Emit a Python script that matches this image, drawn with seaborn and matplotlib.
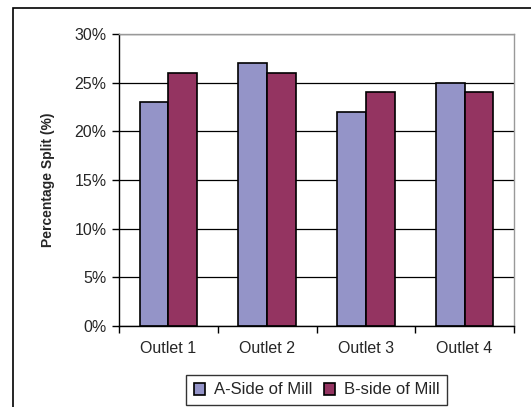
import matplotlib
matplotlib.use("Agg")
import matplotlib.pyplot as plt
import matplotlib.patches as mpatches
from matplotlib.ticker import FuncFormatter, FixedLocator
import seaborn as sns
import pandas as pd

categories = ["Outlet 1", "Outlet 2", "Outlet 3", "Outlet 4"]
a_side = [23, 27, 22, 25]
b_side = [26, 26, 24, 24]
series_names = ["A-Side of Mill", "B-side of Mill"]
colors = ["#9494C8", "#943461"]

df = pd.DataFrame({
    "Outlet": categories * 2,
    "Value": a_side + b_side,
    "Series": [series_names[0]] * 4 + [series_names[1]] * 4,
})

sns.set_style("white")
plt.rcParams["font.family"] = ["Liberation Sans", "DejaVu Sans"]

W, H = 531, 407
fig = plt.figure(figsize=(W / 100, H / 100), dpi=100)
ax = fig.add_axes([119 / W, 1 - 326 / H, (514 - 119) / W, (326 - 34) / H])

sns.barplot(data=df, x="Outlet", y="Value", hue="Series", palette=colors,
            saturation=1, width=0.58, edgecolor="black", linewidth=1.2,
            ax=ax, legend=True)

ax.set_ylim(0, 30)
ax.set_xlim(-0.5, 3.5)
ax.set_yticks([0, 5, 10, 15, 20, 25, 30])
ax.yaxis.set_major_formatter(FuncFormatter(lambda v, p: f"{int(v)}%"))
ax.yaxis.grid(True, color="black", linewidth=0.9)
ax.set_axisbelow(True)
ax.set_xlabel("")
ax.set_ylabel("Percentage Split (%)", fontsize=10, fontweight="bold", labelpad=14)

ax.tick_params(axis="y", which="major", length=5, width=1, color="black",
               direction="out", labelsize=11.5, pad=4, left=True)
ax.tick_params(axis="x", which="major", length=0, labelsize=11.5, pad=11)
ax.xaxis.set_minor_locator(FixedLocator([-0.5, 0.5, 1.5, 2.5, 3.5]))
ax.tick_params(axis="x", which="minor", length=5, width=1, color="black",
               direction="out", bottom=True)

for side in ["left", "bottom"]:
    ax.spines[side].set_color("black")
    ax.spines[side].set_linewidth(1)
for side in ["top", "right"]:
    ax.spines[side].set_color("#999999")
    ax.spines[side].set_linewidth(1)

handles, labels = ax.get_legend_handles_labels()
ax.legend(handles, labels, loc="center", bbox_to_anchor=(316.5 / W, 1 - 390 / H),
          bbox_transform=fig.transFigure, ncol=2, frameon=True, fancybox=False,
          edgecolor="black", fontsize=12, handlelength=0.7, handleheight=0.7,
          handletextpad=0.5, columnspacing=0.7, borderpad=0.45)
ax.get_legend().get_frame().set_linewidth(1)

# outer chart frame
frame = mpatches.Rectangle((13 / W, -0.1), 1.1, 1 - 8 / H + 0.1,
                           transform=fig.transFigure, fill=False,
                           edgecolor="black", linewidth=1.2, zorder=0)
fig.patches.append(frame)

fig.savefig("out.png", dpi=100)
